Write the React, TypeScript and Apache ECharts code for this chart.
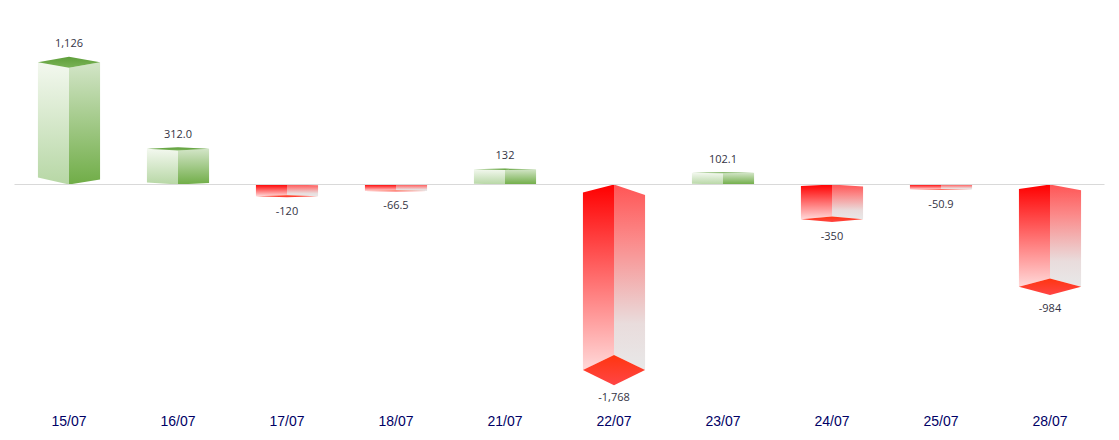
import React, { useEffect, useRef } from "react";
import * as echarts from "echarts";

const categories = ["15/07", "16/07", "17/07", "18/07", "21/07", "22/07", "23/07", "24/07", "25/07", "28/07"];
const values = [1126, 312, -120, -66.5, 132, -1768, 102.1, -350, -50.9, -984];
const valueLabels = ["1,126", "312.0", "-120", "-66.5", "132", "-1,768", "102.1", "-350", "-50.9", "-984"];

const grad = (...colors: [number, string][]) =>
  new echarts.graphic.LinearGradient(
    0,
    0,
    0,
    1,
    colors.map(([offset, color]) => ({ offset, color }))
  );

function renderBar(params: any, api: any) {
  const i = api.value(0);
  const v = api.value(1);
  const [cx, raw] = api.coord([i, v]);
  const base = api.coord([i, 0])[1];
  const w = api.size([1, 0])[0] * 0.285;
  const h0 = Math.abs(raw - base);
  const endY = raw - 2.5 * Math.min(1, h0 / 30);
  const h = Math.abs(endY - base);
  const up = v >= 0;
  const d = h * (up ? 0.045 : 0.081);
  const sL = h * (up ? 0.057 : 0.043);
  const sR = h * (up ? 0.041 : 0.057);
  const poly = (points: number[][], fill: any) => ({
    type: "polygon",
    shape: { points },
    style: { fill, stroke: null },
  });
  const children: any[] = up
    ? [
        poly([[cx - w, endY], [cx, endY + d], [cx, base], [cx - w, base - sL]], grad([0, "#f3f8ef"], [1, "#b7d7a5"])),
        poly([[cx, endY + d], [cx + w, endY], [cx + w, base - sR], [cx, base]], grad([0, "#d3e5c8"], [1, "#70ad47"])),
        poly([[cx - w, endY], [cx, endY - d], [cx + w, endY], [cx, endY + d]], grad([0, "#5e9e3a"], [1, "#79b356"])),
      ]
    : [
        poly([[cx - w, base + sL], [cx, base], [cx, endY - d], [cx - w, endY]], grad([0, "#ff0000"], [1, "#ffd9d9"])),
        poly(
          [[cx, base], [cx + w, base + sR], [cx + w, endY], [cx, endY - d]],
          grad([0, "#ff5555"], [0.3, "#fb8a8a"], [0.75, "#e9dcdc"], [1, "#e8e8e8"])
        ),
        poly([[cx - w, endY], [cx, endY - d], [cx + w, endY], [cx, endY + d]], grad([0, "#ff3510"], [1, "#ff4545"])),
      ];
  const labelOffset = up ? d + 14 : h * 0.07 + 13.5;
  children.push({
    type: "text",
    style: {
      x: cx,
      y: up ? endY - labelOffset : endY + labelOffset,
      text: valueLabels[i],
      fill: "#333344",
      font: '11px "Open Sans", sans-serif',
      align: "center",
      verticalAlign: "middle",
    },
  });
  return { type: "group", children };
}

export default function App() {
  const ref = useRef<HTMLDivElement>(null);
  useEffect(() => {
    const chart = echarts.init(ref.current!, undefined, { renderer: "svg" });
    chart.setOption({
      animation: false,
      backgroundColor: "#ffffff",
      grid: { left: 14.5, top: 24.9, width: 1090, height: 372.4 },
      xAxis: {
        type: "category",
        data: categories,
        axisLine: { show: false, onZero: false },
        axisTick: { show: false },
        axisLabel: { color: "#000066", fontSize: 14, fontFamily: '"Liberation Sans", Arial, sans-serif', margin: 17 },
      },
      yAxis: { type: "value", min: -2000, max: 1500, show: false, splitLine: { show: false } },
      series: [
        {
          type: "custom",
          renderItem: renderBar,
          encode: { x: 0, y: 1 },
          clip: false,
          data: values.map((v, i) => [i, v]),
          markLine: {
            silent: true,
            symbol: "none",
            label: { show: false },
            lineStyle: { color: "#d9d9d9", width: 1, type: "solid" },
            data: [{ yAxis: 0 }],
          },
        },
      ],
    });
    return () => chart.dispose();
  }, []);
  return <div ref={ref} style={{ position: "fixed", left: 0, top: 0, width: 1119, height: 440 }} />;
}
